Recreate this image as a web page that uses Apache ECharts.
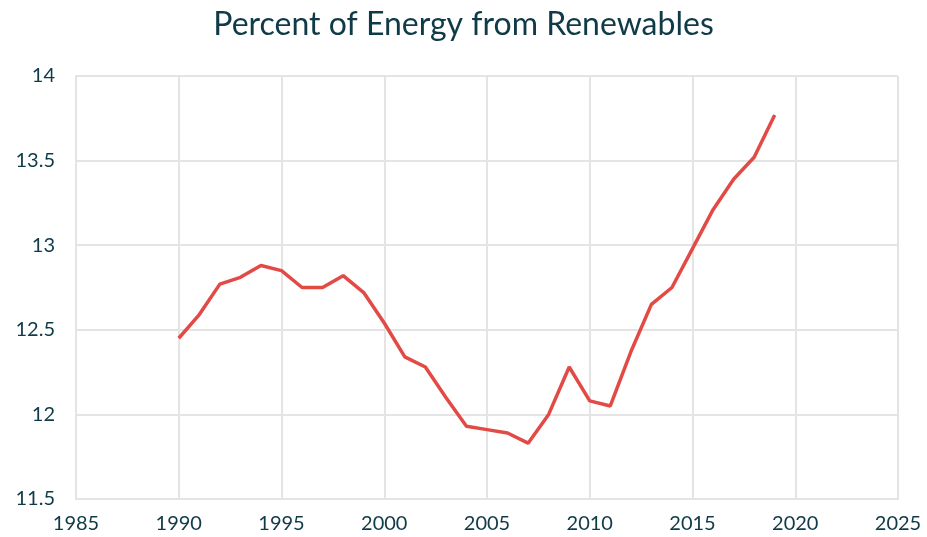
<!DOCTYPE html>
<html>
<head>
<meta charset="utf-8">
<script src="https://cdn.jsdelivr.net/npm/echarts@6/dist/echarts.min.js"></script>
<style>
  html, body { margin: 0; padding: 0; background: #fff; }
  #chart-container { width: 927px; height: 537px; }
</style>
</head>
<body>
<div id="chart-container"></div>
<script>
var years = [1990, 1991, 1992, 1993, 1994, 1995, 1996, 1997, 1998, 1999,
  2000, 2001, 2002, 2003, 2004, 2005, 2006, 2007, 2008, 2009,
  2010, 2011, 2012, 2013, 2014, 2015, 2016, 2017, 2018, 2019];
var renewables = [12.45, 12.59, 12.77, 12.81, 12.88, 12.85, 12.75, 12.75, 12.82, 12.72,
  12.54, 12.34, 12.28, 12.10, 11.93, 11.91, 11.89, 11.83, 12.00, 12.28,
  12.08, 12.05, 12.37, 12.65, 12.75, 12.98, 13.21, 13.39, 13.52, 13.77];

var dom = document.getElementById('chart-container');
var myChart = echarts.init(dom, null, { renderer: 'canvas' });

var textColor = '#0f3a47';
var gridColor = '#e4e4e4';

var option = {
  backgroundColor: '#fff',
  animation: false,
  title: {
    text: 'Percent of Energy from Renewables',
    left: 'center',
    top: 4,
    textStyle: {
      fontFamily: 'Lato',
      fontWeight: 'normal',
      fontSize: 32,
      color: textColor
    }
  },
  grid: { left: 76, right: 29, top: 76, bottom: 38, containLabel: false },
  xAxis: {
    type: 'value',
    min: 1985,
    max: 2025,
    interval: 5,
    axisLine: { show: true, lineStyle: { color: gridColor, width: 2 } },
    axisTick: { show: false },
    splitLine: { show: true, lineStyle: { color: gridColor, width: 2 } },
    axisLabel: {
      color: textColor,
      fontFamily: 'Lato',
      fontSize: 20,
      margin: 15,
      formatter: function (v) { return String(v); }
    }
  },
  yAxis: {
    type: 'value',
    min: 11.5,
    max: 14,
    interval: 0.5,
    axisLine: { show: true, lineStyle: { color: gridColor, width: 2 } },
    axisTick: { show: false },
    splitLine: { show: true, lineStyle: { color: gridColor, width: 2 } },
    axisLabel: {
      color: textColor,
      fontFamily: 'Lato',
      fontSize: 20,
      margin: 21
    }
  },
  series: [
    {
      type: 'line',
      data: years.map(function (y, i) { return [y, renewables[i]]; }),
      showSymbol: false,
      symbol: 'none',
      lineStyle: { color: '#e24a45', width: 3.5 }
    }
  ]
};

myChart.setOption(option);
window.addEventListener('resize', myChart.resize);
</script>
</body>
</html>
